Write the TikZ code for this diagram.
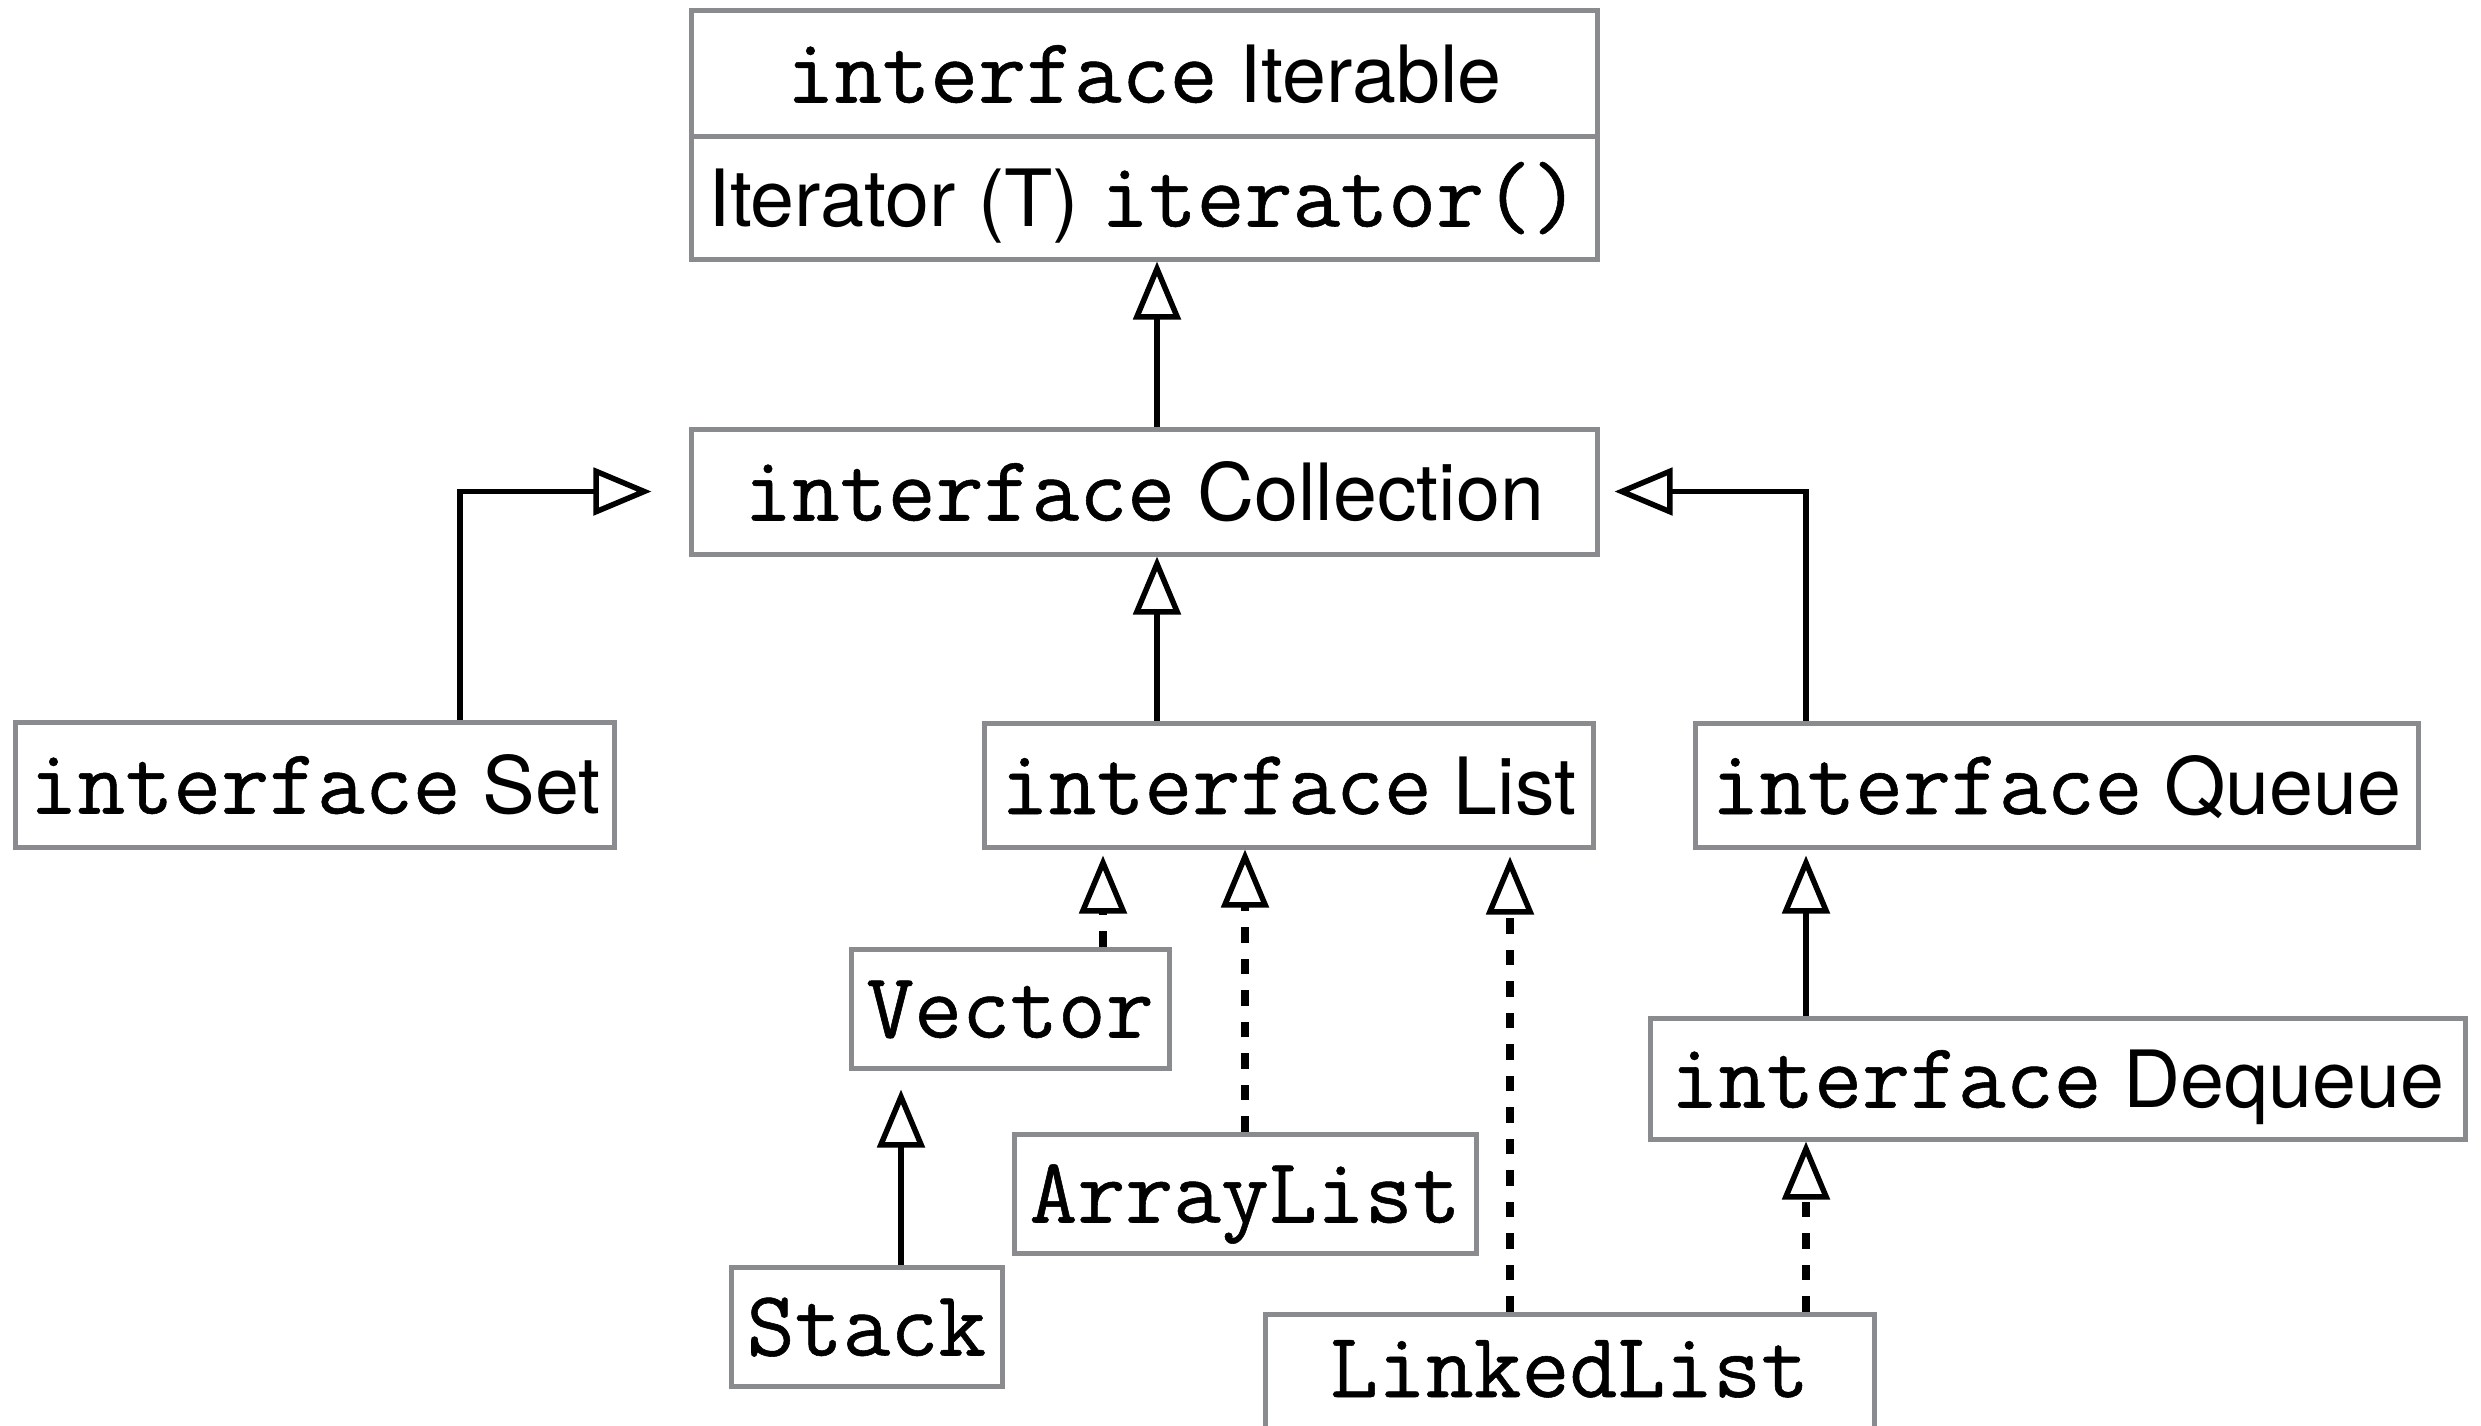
\documentclass[tikz,border=0pt]{standalone}
\usepackage{fontspec}
\setsansfont{TeX Gyre Heros}
\newfontfamily\kwfont{Latin Modern Mono}[FakeBold=0.6]
\usetikzlibrary{arrows.meta}
\definecolor{boxgray}{RGB}{137,139,142}
\newcommand{\kw}[1]{{\fontsize{18.6}{20}\selectfont\kwfont #1}}
\begin{document}
\begin{tikzpicture}[x=0.2pt,y=-0.2pt,
  box/.style={draw=boxgray, line width=1pt, inner sep=0pt, text height=14pt, text depth=2.4pt,
    font=\fontsize{15.8}{18}\selectfont\sffamily, anchor=center},
  inh/.style={line width=1.1pt, -{Triangle[open, length=11.6pt, width=9.4pt, line width=1.1pt]}},
  impl/.style={inh, line width=1.5pt, dash pattern=on 3.1pt off 3.2pt}]
\useasboundingbox (0,0) rectangle (2481,1426);
% boxes
\node[box, minimum width=181.2pt, minimum height=25pt] (iterA) at (1144,73.5) {\kw{interface} Iterable};
\node[box, minimum width=181.2pt, minimum height=24.6pt] (iterB) at (1144,197.5) {Iterator (T) \kw{iterator()}};
\node[box, minimum width=181.2pt, minimum height=25pt] (coll) at (1144,491.5) {\kw{interface} Collection};
\node[box, minimum width=119.6pt, minimum height=25pt] (set) at (315,784.5) {\kw{interface} Set};
\node[box, minimum width=121.8pt, minimum height=24.8pt] (list) at (1288.5,785) {\kw{interface} List};
\node[box, minimum width=144.6pt, minimum height=24.8pt] (queue) at (2056.5,785) {\kw{interface} Queue};
\node[box, minimum width=63.6pt, minimum height=23.8pt] (vector) at (1010,1008.5) {\kw{Vector}};
\node[box, minimum width=92.4pt, minimum height=23.8pt] (arraylist) at (1245,1193.5) {\kw{ArrayList}};
\node[box, minimum width=54.2pt, minimum height=23.8pt] (stack) at (866.5,1326.5) {\kw{Stack}};
\node[box, minimum width=163pt, minimum height=24.2pt] (dequeue) at (2057.5,1078.5) {\kw{interface} Dequeue};
\node[box, minimum width=121.8pt, minimum height=26pt, text height=12pt, text depth=4.8pt] (linked) at (1569.5,1379) {\kw{LinkedList}};
% connector columns
\coordinate (xA) at (1157,0);
\coordinate (xSet) at (460,0);
\coordinate (xQ) at (1806,0);
\coordinate (xVec) at (1103,0);
\coordinate (xArr) at (1245,0);
\coordinate (xLL) at (1510,0);
\coordinate (xStk) at (901,0);
% connectors
\draw[inh] (coll.north -| xA) -- (iterB.south -| xA);
\draw[inh] (list.north -| xA) -- (coll.south -| xA);
\draw[inh, shorten >=7.4pt] (set.north -| xSet) |- (coll.west);
\draw[inh, shorten >=3pt] (queue.north -| xQ) |- (coll.east);
\draw[impl, shorten >=1.2pt] (vector.north -| xVec) -- (list.south -| xVec);
\draw[impl] (arraylist.north -| xArr) -- (list.south -| xArr);
\draw[impl, shorten >=1.4pt] (linked.north -| xLL) -- (list.south -| xLL);
\draw[inh, shorten >=1.2pt] (dequeue.north -| xQ) -- (queue.south -| xQ);
\draw[impl] (linked.north -| xQ) -- (dequeue.south -| xQ);
\draw[inh, shorten >=3.8pt] (stack.north -| xStk) -- (vector.south -| xStk);
\end{tikzpicture}
\end{document}
